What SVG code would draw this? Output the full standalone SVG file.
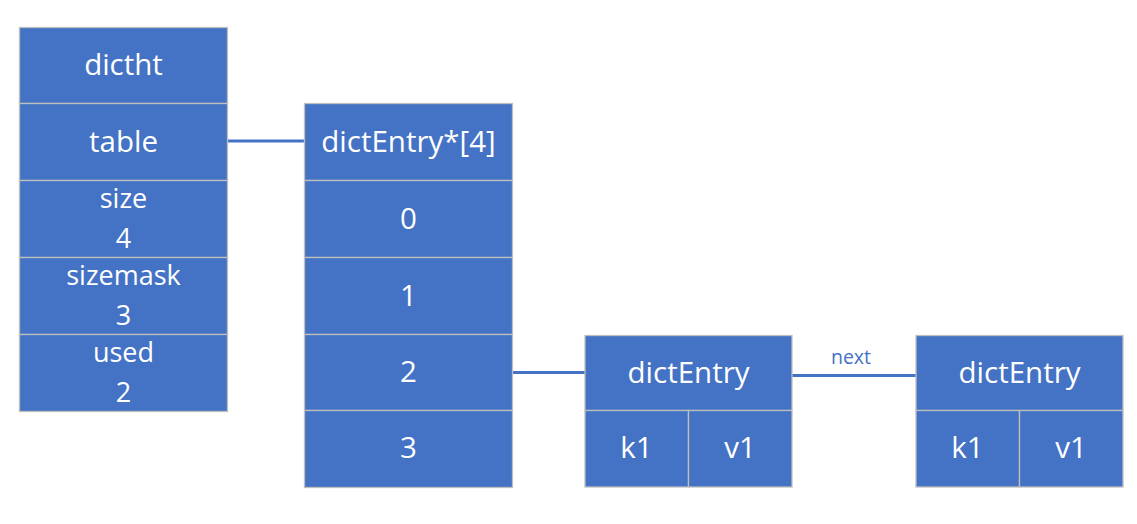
<svg xmlns="http://www.w3.org/2000/svg" width="1137" height="524" viewBox="0 0 1137 524">
<style>
.c{fill:#4472C4;stroke:#BFBFBF;stroke-width:1.3}
.t{font-family:"Open Sans","Liberation Sans",sans-serif;font-size:29.5px;fill:#fff;text-anchor:middle}
.s{font-size:27px}
.l{fill:none;stroke:#4472C4;stroke-width:3}
.lb{font-family:"Open Sans","Liberation Sans",sans-serif;font-size:19.5px;fill:#4472C4;text-anchor:middle}
</style>
<rect width="1137" height="524" fill="#fff"/>
<g id="connectors">
<line class="l" x1="227.5" y1="141" x2="304.5" y2="141"/>
<line class="l" x1="512.5" y1="372.5" x2="585" y2="372.5"/>
<line class="l" x1="792" y1="375.5" x2="916" y2="375.5"/>
<text class="lb" x="851" y="364">next</text>
</g>
<g id="dictht">
<rect class="c" x="19.5" y="27.5" width="208" height="76"/>
<rect class="c" x="19.5" y="103.5" width="208" height="77"/>
<rect class="c" x="19.5" y="180.5" width="208" height="77"/>
<rect class="c" x="19.5" y="257.5" width="208" height="77"/>
<rect class="c" x="19.5" y="334.5" width="208" height="77"/>
<text class="t" x="123.5" y="75">dictht</text>
<text class="t" x="123.5" y="152">table</text>
<text class="t s" x="123.5" y="208">size</text>
<text class="t s" x="123.5" y="248">4</text>
<text class="t s" x="123.5" y="285">sizemask</text>
<text class="t s" x="123.5" y="325">3</text>
<text class="t s" x="123.5" y="362">used</text>
<text class="t s" x="123.5" y="402">2</text>
</g>
<g id="table">
<rect class="c" x="304.5" y="103.5" width="208" height="77"/>
<rect class="c" x="304.5" y="180.5" width="208" height="77"/>
<rect class="c" x="304.5" y="257.5" width="208" height="77"/>
<rect class="c" x="304.5" y="334.5" width="208" height="76"/>
<rect class="c" x="304.5" y="410.5" width="208" height="77"/>
<text class="t" x="408.5" y="152">dictEntry*[4]</text>
<text class="t" x="408.5" y="229">0</text>
<text class="t" x="408.5" y="306">1</text>
<text class="t" x="408.5" y="382">2</text>
<text class="t" x="408.5" y="458">3</text>
</g>
<g id="entry1">
<rect class="c" x="585" y="335.5" width="207" height="75"/>
<rect class="c" x="585" y="410.5" width="103.5" height="76.5"/>
<rect class="c" x="688.5" y="410.5" width="103.5" height="76.5"/>
<text class="t" x="688.5" y="383">dictEntry</text>
<text class="t" x="636.5" y="458">k1</text>
<text class="t" x="740" y="458">v1</text>
</g>
<g id="entry2">
<rect class="c" x="916" y="335.5" width="207" height="75"/>
<rect class="c" x="916" y="410.5" width="103.5" height="76.5"/>
<rect class="c" x="1019.5" y="410.5" width="103.5" height="76.5"/>
<text class="t" x="1019.5" y="383">dictEntry</text>
<text class="t" x="967.5" y="458">k1</text>
<text class="t" x="1071" y="458">v1</text>
</g>
</svg>
